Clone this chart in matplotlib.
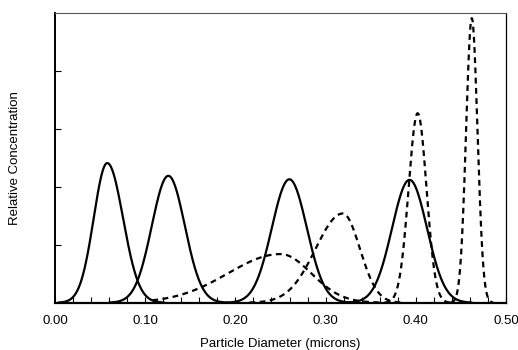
import matplotlib.pyplot as plt
import numpy as np

plt.rcParams['font.family'] = ['Liberation Sans', 'DejaVu Sans']

# solid peaks: centre, height and left / right spread (microns)
solid_centers = [0.058, 0.1257, 0.2598, 0.393]
solid_heights = [2.41, 2.19, 2.13, 2.12]
solid_sigma_left = [0.0150, 0.0183, 0.0194, 0.0194]
solid_sigma_right = [0.0175, 0.0183, 0.0194, 0.0194]

# dashed peaks: centre, height and left / right spread (microns)
dash_centers = [0.250, 0.319, 0.402, 0.462]
dash_heights = [0.84, 1.54, 3.27, 4.91]
dash_sigma_left = [0.058, 0.030, 0.0100, 0.0063]
dash_sigma_right = [0.034, 0.019, 0.0098, 0.0063]
dash_start = [0.108, 0.0, 0.0, 0.0]

x_ticks = [0.00, 0.10, 0.20, 0.30, 0.40, 0.50]
x_tick_labels = ['0.00', '0.10', '0.20', '0.30', '0.40', '0.50']


def peak(x, c, h, sl, sr, start=0.0):
    s = np.where(x < c, sl, sr)
    y = h * np.exp(-0.5 * ((x - c) / s) ** 2)
    y = np.where(x < start, np.nan, y)
    return np.where(y < 0.004, np.nan, y)


fig = plt.figure(figsize=(5.18, 3.5), dpi=100)
ax = fig.add_axes([0.106, 0.135, 0.871, 0.828])

x = np.linspace(0, 0.5, 2000)
for c, h, sl, sr in zip(solid_centers, solid_heights, solid_sigma_left,
                        solid_sigma_right):
    ax.plot(x, peak(x, c, h, sl, sr), color='black', linewidth=1.6)

for c, h, sl, sr, st in zip(dash_centers, dash_heights, dash_sigma_left,
                            dash_sigma_right, dash_start):
    ax.plot(x, peak(x, c, h, sl, sr, st), color='black', linewidth=1.6,
            linestyle=(0, (2.6, 2.0)))

ax.set_xlim(0, 0.5)
ax.set_ylim(0, 5)
ax.set_xticks(x_ticks)
ax.set_xticklabels(x_tick_labels)
ax.set_xticks(np.arange(0, 0.5, 0.02), minor=True)
ax.set_yticks([1, 2, 3, 4])
ax.set_yticklabels([])

ax.tick_params(axis='both', which='both', direction='in', length=4,
               width=0.8, labelsize=9.5, pad=9)

ax.spines['left'].set_linewidth(1.4)
ax.spines['bottom'].set_linewidth(1.6)
ax.spines['top'].set_linewidth(0.8)
ax.spines['top'].set_color('#555555')
ax.spines['right'].set_linewidth(0.9)

ax.set_xlabel('Particle Diameter (microns)', fontsize=9.5, labelpad=8)
ax.set_ylabel('Relative Concentration', fontsize=9.5)
ax.yaxis.set_label_coords(-0.075, 0.5)

fig.savefig('out.png', dpi=100)
